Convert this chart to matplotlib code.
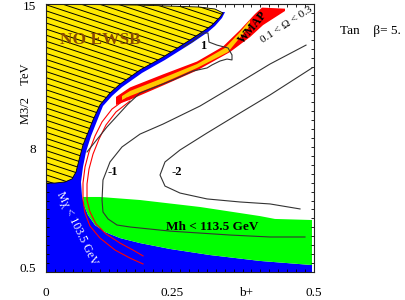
import matplotlib.pyplot as plt
from matplotlib.collections import LineCollection
from matplotlib.ticker import MultipleLocator

plt.rcParams['font.family'] = ['Liberation Serif', 'DejaVu Serif']

# x = b+, y = M3/2 (axis runs 0..15; printed labels placed where the original has them)
xtick_pos = [0.0, 0.235, 0.373, 0.5]
xtick_labels = ['0', '0.25', 'b+', '0.5']
ytick_pos = [0.28, 6.9, 14.94]
ytick_labels = ['0.5', '8', '15']

# NO EWSB region
no_ewsb_b = [0, 0.1754, 0.2873, 0.3153, 0.3302, 0.3246, 0.3097, 0.2966, 0.2687, 0.2183,
             0.1754, 0.1381, 0.1194, 0.1007, 0.0877, 0.0765, 0.069, 0.0616, 0.056, 0.0485,
             0.0354, 0.0168, 0]
no_ewsb_m = [15.0, 14.94, 14.83, 14.72, 14.50, 14.27, 13.82, 13.54, 12.99, 12.03,
             11.31, 10.52, 10.02, 9.35, 8.51, 7.67, 7.11, 6.27, 5.60, 5.21,
             5.04, 4.98, 4.98]

# M_chi < 103.5 GeV (blue)
lsp_b = [0.334, 0.3284, 0.3153, 0.3022, 0.2724, 0.222, 0.1791, 0.1418, 0.1231, 0.1063,
         0.0951, 0.084, 0.0746, 0.069, 0.0653, 0.0672, 0.0709, 0.0784, 0.0914, 0.1101,
         0.1381, 0.1754, 0.2313, 0.306, 0.3993, 0.4963, 0.4963, 0, 0, 0.0261,
         0.0448, 0.1007, 0.194, 0.306]
lsp_m = [14.55, 14.22, 13.77, 13.43, 12.82, 11.87, 11.14, 10.35, 9.85, 9.29,
         8.45, 7.61, 6.72, 5.88, 5.04, 4.25, 3.75, 3.19, 2.63, 2.24,
         1.90, 1.62, 1.29, 0.95, 0.62, 0.39, 0, 0, 4.98, 6.83,
         9.63, 11.87, 13.54, 14.55]

# Mh < 113.5 GeV (green)
higgs_b = [0.069, 0.1007, 0.1754, 0.2873, 0.3993, 0.4272, 0.4963, 0.4963, 0.3993, 0.306,
           0.2313, 0.1754, 0.1381, 0.1101, 0.0914, 0.0784, 0.0709]
higgs_m = [4.20, 4.20, 4.03, 3.64, 3.13, 2.97, 2.91, 0.39, 0.62, 0.95,
           1.29, 1.62, 1.90, 2.24, 2.63, 3.19, 3.75]

# WMAP 0.1 < Omega < 0.3 (red) and its core (gold)
wmap_b = [0.1306, 0.1567, 0.2183, 0.2817, 0.3302, 0.3619, 0.3899, 0.403, 0.4459,
          0.4459, 0.4049, 0.3806, 0.3433, 0.2817, 0.2183, 0.1567, 0.1306]
wmap_m = [9.80, 10.33, 11.06, 11.78, 12.62, 13.54, 14.44, 14.80, 14.74,
          14.61, 13.82, 13.15, 12.31, 11.28, 10.44, 9.64, 9.35]
core_b = [0.1418, 0.1567, 0.2183, 0.2817, 0.334, 0.3619, 0.3806,
          0.3806, 0.3582, 0.3396, 0.2817, 0.2183, 0.1567, 0.1418]
core_m = [9.85, 10.13, 10.86, 11.64, 12.54, 13.43, 14.10,
          13.77, 12.99, 12.31, 11.42, 10.58, 9.85, 9.63]

red1_b = [0.1511, 0.1231, 0.1045, 0.0914, 0.0802, 0.0728, 0.069, 0.069, 0.0728, 0.0821,
          0.1007, 0.1287, 0.1567, 0.181]
red1_m = [9.74, 9.12, 8.40, 7.61, 6.72, 5.88, 4.98, 4.03, 3.30, 2.57,
          1.90, 1.23, 0.78, 0.45]
red2_b = [0.1567, 0.1306, 0.1119, 0.0989, 0.0877, 0.0802, 0.0765, 0.0765, 0.0821, 0.0933,
          0.1119, 0.1381, 0.1623, 0.181]
red2_m = [9.57, 8.96, 8.23, 7.44, 6.60, 5.76, 4.93, 4.03, 3.36, 2.69,
          2.13, 1.62, 1.23, 0.90]

# contours
c_p1_b = [0.2556, 0.2743, 0.2929, 0.3022, 0.3041, 0.319, 0.3396, 0.347, 0.347, 0.3377,
          0.3246, 0.3097, 0.3004, 0.2743, 0.2369, 0.1754, 0.153, 0.1138, 0.0765]
c_p1_m = [12.59, 12.93, 13.38, 13.38, 12.87, 12.70, 12.54, 12.15, 11.87, 11.92,
          11.81, 11.59, 11.42, 11.25, 10.75, 10.02, 9.40, 8.12, 6.72]
c_m1_b = [0.4851, 0.4179, 0.3563, 0.2873, 0.2183, 0.1754, 0.1418, 0.1194, 0.1063, 0.1045,
          0.1063, 0.1157, 0.1325, 0.1567, 0.2313, 0.3433, 0.4179, 0.4832]
c_m1_m = [12.70, 11.64, 10.52, 9.29, 8.28, 7.72, 7.00, 6.16, 5.15, 4.03,
          3.36, 2.97, 2.63, 2.52, 2.29, 2.07, 1.96, 1.96]
c_m2_b = [0.4963, 0.4179, 0.3619, 0.3004, 0.25, 0.222, 0.2127, 0.222, 0.25, 0.3004,
          0.3619, 0.4179, 0.4739]
c_m2_m = [11.42, 9.91, 8.90, 7.78, 6.83, 6.16, 5.43, 4.81, 4.42, 4.09,
          3.92, 3.81, 3.53]

fig = plt.figure(figsize=(4.05, 3.0), dpi=100)
ax = fig.add_axes([0.1136, 0.0933, 0.6617, 0.8933])
ax.set_xlim(0, 0.5)
ax.set_ylim(0, 15)

ax.fill(lsp_b, lsp_m, color='#0000ff', lw=0, zorder=1)
ax.fill(higgs_b, higgs_m, color='#00ff00', lw=0, zorder=1.5)
yellow = ax.fill(no_ewsb_b, no_ewsb_m, fc='#ffea00', ec='black', lw=0.6, zorder=2)[0]

# shallow diagonal hatching of the NO EWSB region
segs = []
c = 0.0
while c < 20:
    segs.append([(0, c), (0.5, c - 4.95)])
    c += 0.34
hatch = LineCollection(segs, colors='black', linewidths=0.7, zorder=2.5)
ax.add_collection(hatch)
hatch.set_clip_path(yellow)

ax.fill(wmap_b, wmap_m, color='#ff0000', lw=0, zorder=3)
ax.fill(core_b, core_m, color='#ffc800', lw=0, zorder=3.2)
ax.plot(red1_b, red1_m, color='#ff0000', lw=0.8, zorder=3.5)
ax.plot(red2_b, red2_m, color='#ff0000', lw=0.8, zorder=3.5)

for xs, ys in [(c_p1_b, c_p1_m), (c_m1_b, c_m1_m), (c_m2_b, c_m2_m)]:
    ax.plot(xs, ys, color='#333333', lw=0.8, zorder=4)

# labels inside the plot
ax.text(0.1007, 12.99, 'NO EWSB', color='#8b4c00', fontsize=12.5, fontweight='bold',
        ha='center', va='center', zorder=5)
ax.text(0.2929, 12.65, '1', fontsize=9, fontweight='bold', ha='center', va='center', zorder=5)
ax.text(0.125, 5.60, '-1', fontsize=9, fontweight='bold', ha='center', va='center', zorder=5)
ax.text(0.2444, 5.60, '-2', fontsize=9, fontweight='bold', ha='center', va='center', zorder=5)
ax.text(0.3097, 2.50, 'Mh < 113.5 GeV', fontsize=9.5, fontweight='bold',
        ha='center', va='center', zorder=5)
ax.text(0.0578, 2.46, 'M\u03c7 < 103.5 GeV', color='white', fontsize=8.5, rotation=-64,
        ha='center', va='center', zorder=5)
ax.text(0.3862, 13.71, 'WMAP', fontsize=8.5, fontweight='bold', rotation=50,
        ha='center', va='center', zorder=5)
ax.text(0.4495, 13.85, '0.1 < \u03a9 < 0.3', fontsize=8, rotation=33,
        ha='center', va='center', zorder=5)

# axes, ticks
ax.set_xticks(xtick_pos)
ax.set_xticklabels(xtick_labels)
ax.set_yticks(ytick_pos)
ax.set_yticklabels(ytick_labels)
ax.tick_params(which='major', length=0, labelsize=9.5)
ax.tick_params(axis='x', which='major', pad=11)
ax.tick_params(axis='y', which='major', pad=7)
ax.xaxis.set_minor_locator(MultipleLocator(0.5 / 30))
ax.yaxis.set_minor_locator(MultipleLocator(0.5))
ax.tick_params(which='minor', direction='in', length=2.5, width=0.6,
               top=True, right=True, bottom=True, left=True)
for s in ax.spines.values():
    s.set_linewidth(0.8)
    s.set_color('#222222')

fig.text(0.064, 0.687, 'M3/2    TeV', rotation=90, fontsize=9, ha='center', va='center')
fig.text(0.84, 0.897, 'Tan    \u03b2= 5.', fontsize=9.5, ha='left', va='center')

fig.savefig('out.png', dpi=100)
